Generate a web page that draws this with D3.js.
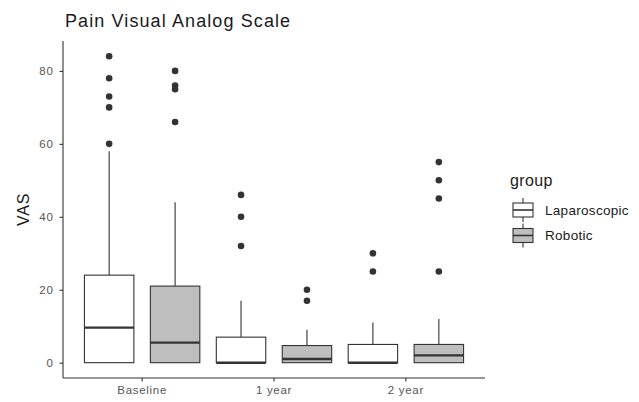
<!DOCTYPE html>
<html>
<head>
<meta charset="utf-8">
<script src="https://cdn.jsdelivr.net/npm/d3@7"></script>
<style>
  body { margin: 0; background: #fff; }
  svg { display: block; font-family: "Liberation Sans", Arial, sans-serif; }
</style>
</head>
<body>
<div id="chart"></div>
<script>
// categories and groups
const timepoints = ['Baseline', '1 year', '2 year'];
const groups = ['Laparoscopic', 'Robotic'];
const groupFill = ['#ffffff', '#bebebe'];
const yTicks = [0, 20, 40, 60, 80];

// box stats: [low whisker, q1, median, q3, high whisker]
const lapStats = [[0, 0, 9.6, 24, 58], [0, 0, 0, 7, 17], [0, 0, 0, 5, 11]];
const robStats = [[0, 0, 5.5, 21, 44], [0, 0, 1, 4.7, 9], [0, 0, 2, 5, 12]];
const lapOutliers = [[84, 78, 73, 70, 60], [46, 40, 32], [30, 25]];
const robOutliers = [[80, 76, 75, 66], [20, 17], [55, 50, 45, 25]];

const width = 639, height = 402;
const panel = { left: 63, right: 485, top: 41, bottom: 378 };

const svg = d3.select('#chart').append('svg')
    .attr('width', width)
    .attr('height', height);

const x = d3.scaleBand()
    .domain(timepoints)
    .range([panel.left, panel.right]);
// ggplot discrete expansion: 0.6 units each side
const unit = (panel.right - panel.left) / 3.2;
const xc = (t) => panel.left + unit * (0.6 + timepoints.indexOf(t));

const y = d3.scaleLinear().domain([-4.2, 88.2]).range([panel.bottom, panel.top]);

const rows = [];
timepoints.forEach((t, i) => {
    rows.push({ t, g: 0, s: lapStats[i], out: lapOutliers[i] });
    rows.push({ t, g: 1, s: robStats[i], out: robOutliers[i] });
});

const boxW = unit * 0.375;
const dark = '#333333';

const boxes = svg.append('g').selectAll('g').data(rows).enter().append('g')
    .attr('transform', (d) => `translate(${xc(d.t) + (d.g === 0 ? -0.25 : 0.25) * unit}, 0)`);

boxes.append('line')
    .attr('y1', (d) => y(d.s[3])).attr('y2', (d) => y(d.s[4]))
    .attr('stroke', dark).attr('stroke-width', 1.1);
boxes.append('line')
    .attr('y1', (d) => y(d.s[1])).attr('y2', (d) => y(d.s[0]))
    .attr('stroke', dark).attr('stroke-width', 1.1);
boxes.append('rect')
    .attr('x', -boxW / 2)
    .attr('width', boxW)
    .attr('y', (d) => y(d.s[3]))
    .attr('height', (d) => Math.max(0, y(d.s[1]) - y(d.s[3])))
    .attr('fill', (d) => groupFill[d.g])
    .attr('stroke', dark).attr('stroke-width', 1.1);
boxes.append('line')
    .attr('x1', -boxW / 2).attr('x2', boxW / 2)
    .attr('y1', (d) => y(d.s[2])).attr('y2', (d) => y(d.s[2]))
    .attr('stroke', dark).attr('stroke-width', 2.4);
boxes.selectAll('circle').data((d) => d.out).enter().append('circle')
    .attr('r', 3.3)
    .attr('cy', (v) => y(v))
    .attr('fill', dark);

// axes
const yAxis = svg.append('g')
    .attr('transform', `translate(${panel.left},0)`)
    .call(d3.axisLeft(y).tickValues(yTicks).tickSize(3.5).tickPadding(6));
yAxis.select('.domain').attr('d', `M0,${panel.top}V${panel.bottom}`);

const xAxis = svg.append('g')
    .attr('transform', `translate(0,${panel.bottom})`)
    .call(d3.axisBottom(x).tickSize(3.5).tickPadding(4));
xAxis.selectAll('.tick').attr('transform', (d) => `translate(${xc(d)},0)`);
xAxis.select('.domain').attr('d', `M${panel.left},0H${panel.right}`);

[yAxis, xAxis].forEach((a) => {
    a.select('.domain').attr('stroke', dark).attr('stroke-width', 1.1);
    a.selectAll('.tick line').attr('stroke', dark).attr('stroke-width', 1.1);
    a.selectAll('.tick text').attr('fill', '#555555')
        .style('font-size', '11.5px').style('letter-spacing', '0.7px');
});

// title and axis label
svg.append('text')
    .attr('x', 65).attr('y', 27)
    .attr('font-size', 18).attr('fill', '#1a1a1a')
    .style('letter-spacing', '1.1px')
    .text('Pain Visual Analog Scale');

svg.append('text')
    .attr('transform', `translate(29,${(panel.top + panel.bottom) / 2}) rotate(-90)`)
    .attr('text-anchor', 'middle')
    .attr('font-size', 16).attr('fill', '#1a1a1a')
    .style('letter-spacing', '0.8px')
    .text('VAS');

// legend
const legend = svg.append('g').attr('transform', 'translate(510,0)');
legend.append('text')
    .attr('x', 0).attr('y', 186)
    .attr('font-size', 16).attr('fill', '#1a1a1a')
    .style('letter-spacing', '0.4px')
    .text('group');
const items = legend.selectAll('g.item').data(groups).enter().append('g')
    .attr('class', 'item')
    .attr('transform', (d, i) => `translate(0,${210 + i * 25.5})`);
items.append('line')
    .attr('x1', 13).attr('x2', 13).attr('y1', -12).attr('y2', 12)
    .attr('stroke', dark).attr('stroke-width', 1.1);
items.append('rect')
    .attr('x', 3).attr('y', -7).attr('width', 20).attr('height', 14)
    .attr('fill', (d, i) => groupFill[i])
    .attr('stroke', dark).attr('stroke-width', 1.1);
items.append('line')
    .attr('x1', 3).attr('x2', 23).attr('y1', 0).attr('y2', 0)
    .attr('stroke', dark).attr('stroke-width', 1.6);
items.append('text')
    .attr('x', 35).attr('y', 4.5)
    .attr('font-size', 13.5).attr('fill', '#1a1a1a')
    .style('letter-spacing', '0.3px')
    .text((d) => d);
</script>
</body>
</html>
